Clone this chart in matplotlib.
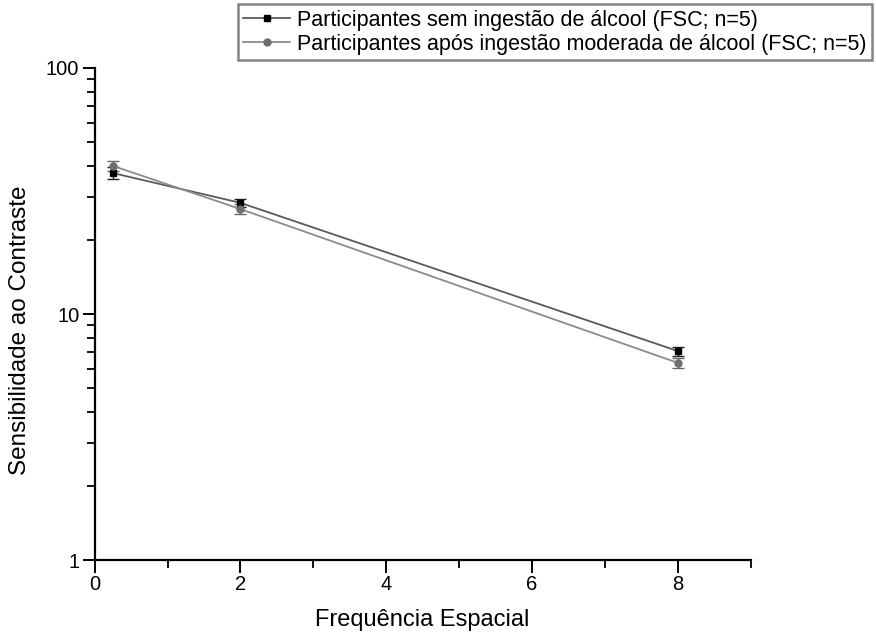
import numpy as np
import matplotlib
matplotlib.use("Agg")
import matplotlib.pyplot as plt
from matplotlib.lines import Line2D
from matplotlib.ticker import LogLocator, NullFormatter, MultipleLocator

plt.rcParams["font.family"] = ["Liberation Sans", "DejaVu Sans"]

# data
freq = [0.25, 2, 8]
cs_sem = [37.4, 28.3, 7.07]
err_sem = [2.0, 1.0, 0.3]
cs_apos = [40.0, 26.7, 6.33]
err_apos = [1.7, 1.2, 0.3]
labels = ["Participantes sem ingestão de álcool (FSC; n=5)",
          "Participantes após ingestão moderada de álcool (FSC; n=5)"]

fig = plt.figure(figsize=(8.76, 6.35), dpi=100)
ax = fig.add_axes([0.108, 0.118, 0.749, 0.775])

c1, c2 = "#5a5a5a", "#8c8c8c"
ax.errorbar(freq, cs_sem, yerr=err_sem, color=c1, lw=1.3,
            marker="s", ms=5, mfc="black", mec="black", ecolor="#222222",
            capsize=4, elinewidth=1)
ax.errorbar(freq, cs_apos, yerr=err_apos, color=c2, lw=1.3,
            marker="o", ms=5, mfc="#6e6e6e", mec="#6e6e6e", ecolor="#666666",
            capsize=4, elinewidth=1)

ax.set_yscale("log")
ax.set_ylim(1, 100)
ax.set_xlim(0, 9)
ax.xaxis.set_major_locator(MultipleLocator(2))
ax.xaxis.set_minor_locator(MultipleLocator(1))
ax.yaxis.set_major_locator(LogLocator(base=10))
ax.yaxis.set_minor_locator(LogLocator(base=10, subs=np.arange(2, 10)))
ax.yaxis.set_minor_formatter(NullFormatter())
ax.set_yticks([1, 10, 100])
ax.set_yticklabels(["1", "10", "100"])

for s in ["top", "right"]:
    ax.spines[s].set_visible(False)
for s in ["left", "bottom"]:
    ax.spines[s].set_linewidth(1.6)
ax.tick_params(which="major", direction="out", length=9, width=1.4,
               labelsize=14.5, pad=2)
ax.tick_params(which="minor", direction="out", length=6, width=1.3)

ax.set_xlabel("Frequência Espacial", fontsize=17)
ax.set_ylabel("Sensibilidade ao Contraste", fontsize=17.5)
ax.xaxis.set_label_coords(0.5, -0.1)
ax.yaxis.set_label_coords(-0.097, 0.467)

handles = [Line2D([], [], color=c1, lw=1.3, marker="s", ms=5, mfc="black", mec="black"),
           Line2D([], [], color=c2, lw=1.3, marker="o", ms=5, mfc="#6e6e6e", mec="#6e6e6e")]
leg = fig.legend(handles, labels, loc="upper right", bbox_to_anchor=(1.0, 1.0),
                 fontsize=15.5, frameon=True, fancybox=False, edgecolor="#666666",
                 handlelength=2.2, borderpad=0.25, labelspacing=0.15,
                 handletextpad=0.3, borderaxespad=0.2)
leg.get_frame().set_linewidth(1.8)

fig.savefig("out.png", dpi=100)
